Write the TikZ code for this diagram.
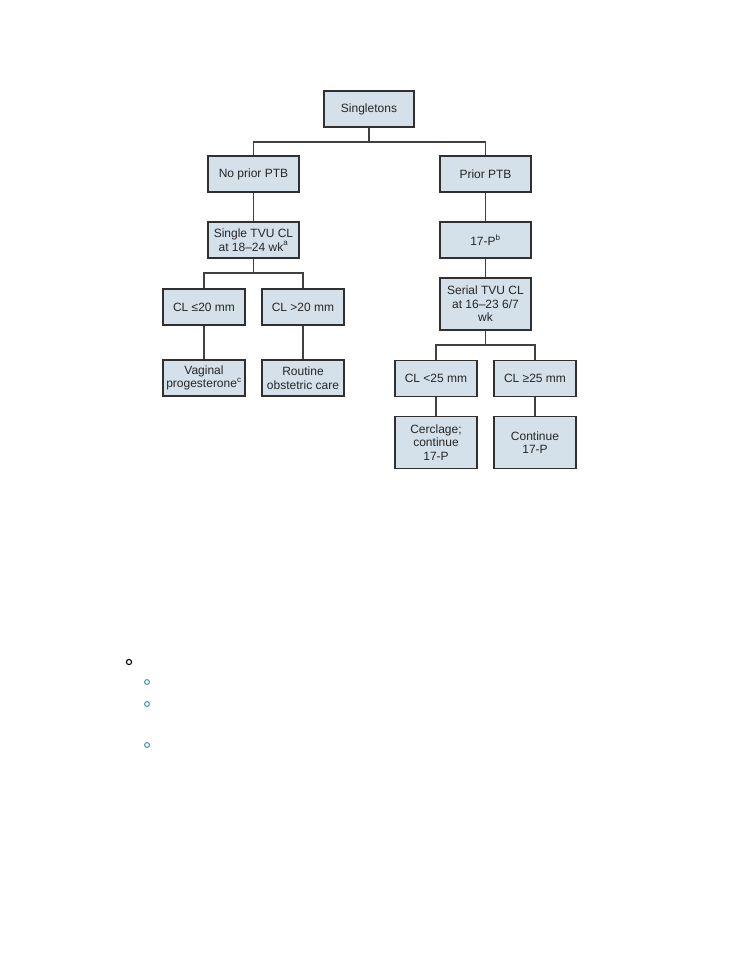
\documentclass[tikz,border=0pt]{standalone}
\usepackage{fontspec}
\setmainfont{Liberation Sans}
\usepackage{tikz}
\usetikzlibrary{calc}

\definecolor{boxfill}{HTML}{D4E1EA}
\definecolor{boxline}{HTML}{303030}
\definecolor{bullteal}{HTML}{4A9AAA}

\tikzset{
  box/.style = {draw = boxline, line width = 1.4pt, fill = boxfill, text = black!85,
    align = center, inner sep = 1pt, minimum height = 27pt,
    font = \fontsize{9}{10.2}\selectfont},
  link/.style = {draw = black!75, line width = 1.1pt}
}

\begin{document}
\begin{tikzpicture}[x = 0.75pt, y = -0.75pt]
\useasboundingbox (0, 0) rectangle (741, 960);

\node[box, minimum width = 68pt] (sing) at (369, 109) {Singletons};
\node[box, minimum width = 68pt] (noprior) at (253.5, 174) {No prior PTB};
\node[box, minimum width = 68pt] (prior) at (485.5, 174) {Prior PTB};

\node[box, minimum width = 68pt] (single) at (253.5, 240) {Single TVU CL\\at 18--24 wk\textsuperscript{a}};
\node[box, minimum width = 68pt] (seventeen) at (485.5, 240) {17-P\textsuperscript{b}};
\node[box, minimum width = 68pt, minimum height = 39pt] (serial) at (485.5, 304) {Serial TVU CL\\at 16--23 6/7\\wk};

\node[box, minimum width = 62pt] (clle) at (204, 307) {CL ≤20 mm};
\node[box, minimum width = 62pt] (clgt) at (303, 307) {CL >20 mm};
\node[box, minimum width = 62pt] (vag) at (204, 378) {Vaginal\\progesterone\textsuperscript{c}};
\node[box, minimum width = 62pt] (rout) at (303, 378) {Routine\\obstetric care};

\node[box, minimum width = 61pt] (cllt) at (436, 378.5) {CL <25 mm};
\node[box, minimum width = 61pt] (clge) at (535, 378.5) {CL ≥25 mm};
\node[box, minimum width = 61pt, minimum height = 39pt] (cerc) at (436, 442.5) {Cerclage;\\continue\\17-P};
\node[box, minimum width = 61pt, minimum height = 39pt] (cont) at (535, 442.5) {Continue\\17-P};

\coordinate (top) at (369, 142);
\coordinate (left) at (253.5, 273);
\coordinate (right) at (485.5, 345);

\begin{scope}[on background layer/.try]
\draw[link] (sing.south) -- (top);
\draw[link] (noprior.north) |- (top) -| (prior.north);
\draw[link] (noprior) -- (single);
\draw[link] (prior) -- (seventeen);
\draw[link] (seventeen) -- (serial);
\draw[link] (single.south) -- (left);
\draw[link] (clle.north) |- (left) -| (clgt.north);
\draw[link] (clle) -- (vag);
\draw[link] (clgt) -- (rout);
\draw[link] (serial.south) -- (right);
\draw[link] (cllt.north) |- (right) -| (clge.north);
\draw[link] (cllt) -- (cerc);
\draw[link] (clge) -- (cont);
\end{scope}

\draw[black, line width = 0.8pt] (129, 662) circle (2.6);
\draw[bullteal, line width = 0.8pt] (147, 682) circle (2.4);
\draw[bullteal, line width = 0.8pt] (147, 704) circle (2.4);
\draw[bullteal, line width = 0.8pt] (147, 745) circle (2.4);
\end{tikzpicture}
\end{document}
